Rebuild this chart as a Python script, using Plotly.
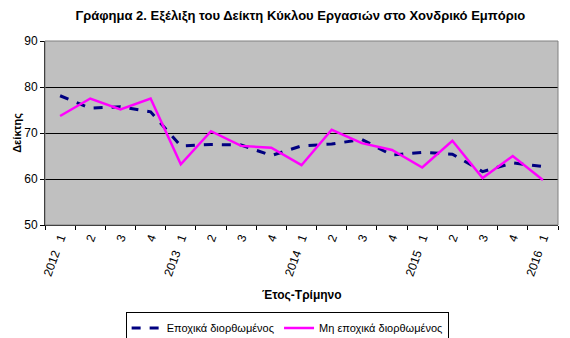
import plotly.graph_objects as go

labels = ["2012   1", "2", "3", "4", "2013   1", "2", "3", "4", "2014   1", "2", "3", "4",
          "2015   1", "2", "3", "4", "2016   1"]
seasonal = [78.1, 75.4, 75.7, 74.6, 67.2, 67.5, 67.4, 65.1, 67.2, 67.6, 68.6, 65.2,
            65.8, 65.4, 61.6, 63.5, 62.7]
raw = [73.7, 77.5, 75.1, 77.5, 63.2, 70.4, 67.2, 66.8, 63.0, 70.7, 67.8, 66.3,
       62.5, 68.3, 60.2, 65.0, 59.8]
name_sa = "Εποχικά διορθωμένος"
name_raw = "Μη εποχικά διορθωμένος"

x = list(range(len(labels)))
font = "Liberation Sans, Arial, sans-serif"

fig = go.Figure()
fig.add_trace(go.Scatter(x=x, y=seasonal, mode="lines", name=name_sa,
                         line=dict(color="#000080", width=3, dash="dash")))
fig.add_trace(go.Scatter(x=x, y=raw, mode="lines", name=name_raw,
                         line=dict(color="#FF00FF", width=2.5)))

fig.update_layout(
    width=570, height=338,
    margin=dict(l=45, r=12, t=41, b=113, autoexpand=False),
    paper_bgcolor="white", plot_bgcolor="#C0C0C0",
    font=dict(family=font, size=11, color="black"),
    title=dict(text="<b>Γράφημα 2. Εξέλιξη του Δείκτη Κύκλου Εργασιών στο Χονδρικό Εμπόριο</b>",
               x=0.527, xanchor="center", y=0.955, yanchor="middle",
               font=dict(size=13, family=font)),
    showlegend=True,
    legend=dict(orientation="h", x=0.472, xanchor="center", y=-0.475, yanchor="top",
                bordercolor="black", borderwidth=1, bgcolor="white",
                font=dict(size=11, family=font), itemwidth=30, tracegroupgap=0),
)
fig.update_xaxes(
    range=[-0.5, len(labels) - 0.5], tickmode="array", tickvals=x, ticktext=labels,
    tickangle=-70, ticks="", showgrid=False, zeroline=False,
    showline=True, linecolor="black", linewidth=1, mirror=False,
    tickfont=dict(size=12),
    minor=dict(tickmode="array", tickvals=[i - 0.5 for i in range(len(labels) + 1)],
               ticks="outside", ticklen=4, tickcolor="black", showgrid=False),
)
fig.update_yaxes(
    range=[50, 90], dtick=10, ticks="outside", ticklen=4, tickcolor="black",
    showgrid=True, gridcolor="black", gridwidth=1, zeroline=False,
    showline=True, linecolor="black", linewidth=1, tickfont=dict(size=12),
)
# gray border on top/right of plot area
fig.add_shape(type="rect", xref="paper", yref="paper", x0=0, y0=0, x1=1, y1=1,
              line=dict(color="#808080", width=1), layer="above")
fig.add_annotation(text="<b>Δείκτης</b>", xref="paper", yref="paper", x=-0.055, y=0.5,
                   textangle=-90, showarrow=False, xanchor="center", yanchor="middle",
                   font=dict(size=11, family=font))
fig.add_annotation(text="<b>Έτος-Τρίμηνο</b>", xref="paper", yref="paper", x=0.5, y=-0.38,
                   showarrow=False, xanchor="center", yanchor="middle",
                   font=dict(size=12, family=font))

fig.write_html("out.html")
